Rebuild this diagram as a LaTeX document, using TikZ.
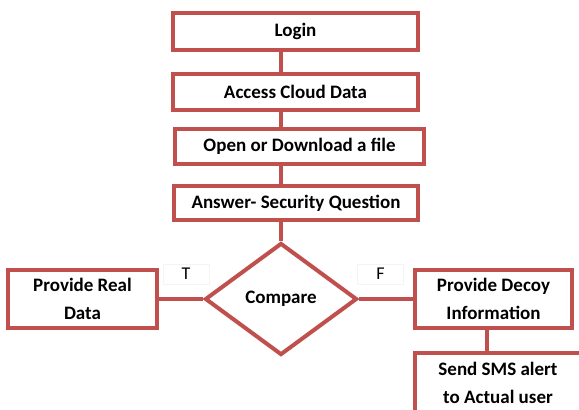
\documentclass[tikz,border=0pt]{standalone}
\usepackage{fontspec}
\setmainfont{Carlito}
\usetikzlibrary{shapes.geometric}
\definecolor{boxred}{RGB}{192,80,77}
\definecolor{faint}{RGB}{244,244,244}
\tikzset{
  flowbox/.style={draw=boxred, line width=4pt, fill=white, rectangle, inner sep=0pt,
    font=\fontsize{19}{28}\selectfont\bfseries, align=center},
  decision/.style={draw=boxred, line width=4pt, fill=white, diamond, inner sep=0pt,
    font=\fontsize{19}{28}\selectfont\bfseries},
  link/.style={draw=boxred, line width=4pt},
  tflabel/.style={draw=faint, line width=0.6pt, inner sep=0pt, font=\fontsize{18}{20}\selectfont,
    minimum width=46pt, minimum height=20pt}
}
\begin{document}
\begin{tikzpicture}[x=1pt,y=-1pt]
\useasboundingbox (0,0) rectangle (579,410);
\clip (0,0) rectangle (579,410);
\coordinate (spine) at (281,0);
\node[flowbox, minimum width=245pt, minimum height=37pt] (login) at (295.5,31.5) {Login};
\node[flowbox, minimum width=245pt, minimum height=36pt] (access) at (295.5,92) {Access Cloud Data};
\node[flowbox, minimum width=249pt, minimum height=35pt] (open) at (299.5,146.5) {Open or Download a file};
\node[flowbox, minimum width=244pt, minimum height=34pt] (answer) at (296,203) {Answer- Security Question};
\node[decision, minimum width=152pt, minimum height=112pt] (cmp) at (281,299) {Compare};
\node[flowbox, minimum width=149pt, minimum height=58pt] (real) at (82.5,299) {Provide Real\\Data};
\node[flowbox, minimum width=157pt, minimum height=58pt] (decoy) at (493.5,299) {Provide Decoy\\Information};
\node[flowbox, minimum width=166pt, minimum height=59pt] (sms) at (498,382.5) {Send SMS alert\\to Actual user};
\node[tflabel] (tl) at (186,274) {T};
\node[tflabel] (fl) at (380.5,274) {F};
\draw[link] (login.south -| spine) -- (access.north -| spine);
\draw[link] (access.south -| spine) -- (open.north -| spine);
\draw[link] (open.south -| spine) -- (answer.north -| spine);
\draw[link] (answer.south -| spine) -- (cmp.north);
\draw[link] (cmp.west) -- (real.east);
\draw[link] (cmp.east) -- (decoy.west);
\draw[link] (decoy.south -| 487,0) -- (sms.north -| 487,0);
\end{tikzpicture}
\end{document}
